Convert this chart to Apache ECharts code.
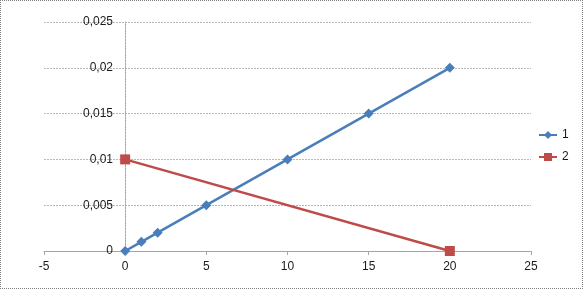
<!DOCTYPE html>
<html><head><meta charset="utf-8">
<script src="https://cdn.jsdelivr.net/npm/echarts@6/dist/echarts.min.js"></script>
<style>
html,body{margin:0;padding:0;background:#fff;}
#wrap{position:relative;width:583px;height:289px;box-sizing:border-box;border:1px dotted #7f7f7f;}
#c{position:absolute;left:0;top:0;width:583px;height:289px;}
</style></head>
<body><div id="wrap"></div><div id="c"></div>
<script>
var seriesNames = ['1', '2'];
var series1X = [0, 1, 2, 5, 10, 15, 20];
var series1Y = [0, 0.001, 0.002, 0.005, 0.01, 0.015, 0.02];
var series2X = [0, 20];
var series2Y = [0.01, 0];
var xTicks = [-5, 0, 5, 10, 15, 20, 25];
var yTicks = [0, 0.005, 0.01, 0.015, 0.02, 0.025];

function zip(a, b) { return a.map(function (v, i) { return [v, b[i]]; }); }

var chart = echarts.init(document.getElementById('c'), null, {renderer: 'canvas'});
var font = 'Liberation Sans, Arial, sans-serif';
chart.setOption({
  animation: false,
  textStyle: {fontFamily: font},
  grid: {left: 44, right: 52, top: 22, bottom: 38, containLabel: false},
  legend: {
    orient: 'vertical', left: 533, top: 124, itemGap: 10,
    itemWidth: 18, itemHeight: 10,
    textStyle: {fontSize: 12, color: '#1a1a1a', fontFamily: font},
    data: seriesNames
  },
  xAxis: {
    type: 'value', min: xTicks[0], max: xTicks[xTicks.length - 1], interval: 5,
    axisLine: {onZero: true, lineStyle: {color: '#a6a6a6', width: 1}},
    axisTick: {show: true, length: 4, lineStyle: {color: '#a6a6a6'}},
    axisLabel: {fontSize: 12, color: '#1a1a1a', margin: 10},
    splitLine: {show: false}
  },
  yAxis: {
    type: 'value', min: yTicks[0], max: yTicks[yTicks.length - 1], interval: 0.005,
    axisLine: {show: true, onZero: true, lineStyle: {color: '#a6a6a6', width: 1, type: [2, 1]}},
    axisTick: {show: false},
    axisLabel: {fontSize: 12, color: '#1a1a1a', margin: -69, align: 'right',
      formatter: function (v) { return String(+v.toFixed(3)).replace('.', ','); }},
    splitLine: {show: true, lineStyle: {color: '#b8b8b8', width: 1, type: [2, 1]}}
  },
  series: [
    {
      name: seriesNames[0], type: 'line', data: zip(series1X, series1Y),
      symbol: 'diamond', symbolSize: 10, showAllSymbol: true,
      lineStyle: {color: '#4a7ebb', width: 2.5},
      itemStyle: {color: '#4a7ebb'}
    },
    {
      name: seriesNames[1], type: 'line', data: zip(series2X, series2Y),
      symbol: 'rect', symbolSize: 10,
      lineStyle: {color: '#be4b48', width: 2.5},
      itemStyle: {color: '#be4b48'}
    }
  ]
});
</script>
</body></html>
